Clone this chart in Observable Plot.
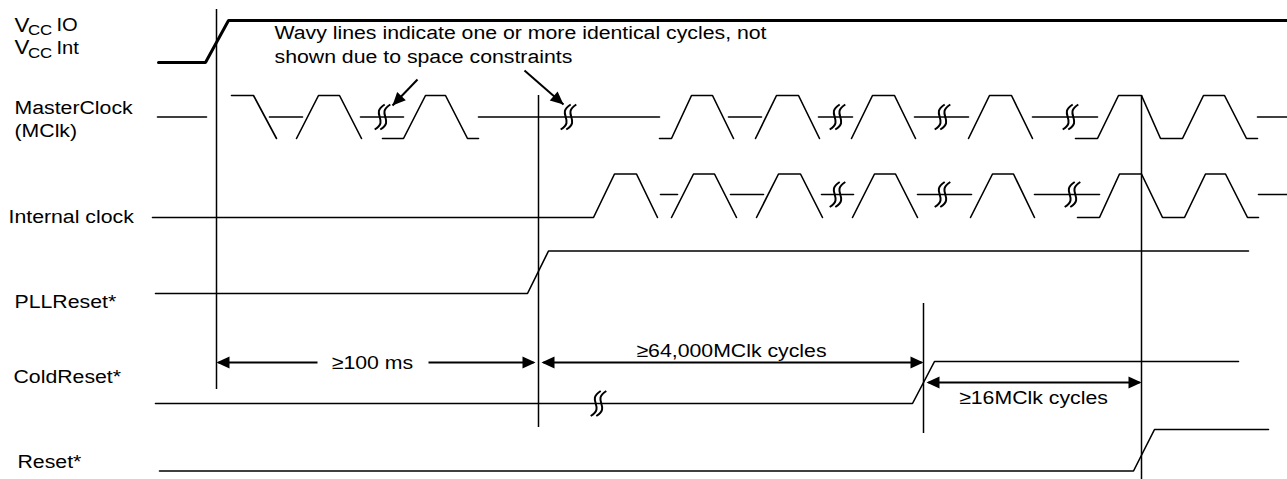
<!DOCTYPE html>
<html>
<head>
<meta charset="utf-8">
<script src="https://cdn.jsdelivr.net/npm/d3@7"></script>
<script src="https://cdn.jsdelivr.net/npm/@observablehq/plot@0.6"></script>
<style>
  html, body { margin: 0; padding: 0; background: #fff; overflow: hidden; }
  #chart svg { display: block; }
</style>
</head>
<body>
<div id="chart"></div>
<script>
// ---------------- DATA (time positions and logic levels) ----------------
const signalNames = ["MasterClock", "(MClk)", "Internal clock", "PLLReset*", "ColdReset*", "Reset*"];
const vccNames = [["V", "CC", "IO"], ["V", "CC", "Int"]];
const noteLines = ["Wavy lines indicate one or more identical cycles, not", "shown due to space constraints"];

// digital signals: [time, level]
const vccWave   = [[158, "L"], [205, "L"], [228, "H"], [1287, "H"]];
const pllWave   = [[155, "L"], [527, "L"], [548, "H"], [1248, "H"]];
const coldWave  = [[155, "L"], [912, "L"], [934, "H"], [1238, "H"]];
const resetWave = [[159, "L"], [1133, "L"], [1154, "H"], [1268, "H"]];

// clock signals: list of polyline pieces, each [time, level]; M = idle mid level
const mclkPieces = [
  [[157, "M"], [206, "M"]],
  [[231, "H"], [253, "H"], [276, "L"]],
  [[269, "M"], [302, "M"]],
  [[296, "L"], [318, "H"], [339, "H"], [361, "L"]],
  [[360, "M"], [403, "M"]],
  [[382, "L"], [403, "L"], [425, "H"], [445, "H"], [467, "L"], [478, "L"]],
  [[478, "M"], [659, "M"]],
  [[659, "L"], [671, "L"], [691, "H"], [712, "H"], [733, "L"]],
  [[728, "M"], [761, "M"]],
  [[755, "L"], [776, "H"], [798, "H"], [819, "L"]],
  [[818, "M"], [852, "M"]],
  [[851, "L"], [872, "H"], [894, "H"], [915, "L"]],
  [[914, "M"], [968, "M"]],
  [[968, "L"], [989, "H"], [1011, "H"], [1032, "L"]],
  [[1032, "M"], [1097, "M"]],
  [[1075, "L"], [1097, "L"], [1118, "H"], [1141, "H"], [1160, "L"], [1182, "L"], [1203, "H"], [1224, "H"], [1246, "L"], [1257, "L"]],
  [[1257, "M"], [1287, "M"]]
];
const iclkPieces = [
  [[152, "L"], [593, "L"], [614, "H"], [636, "H"], [657, "L"]],
  [[660, "M"], [677, "M"]],
  [[671, "L"], [693, "H"], [714, "H"], [736, "L"]],
  [[730, "M"], [763, "M"]],
  [[756, "L"], [778, "H"], [800, "H"], [822, "L"]],
  [[821, "M"], [853, "M"]],
  [[852, "L"], [874, "H"], [895, "H"], [917, "L"]],
  [[917, "M"], [971, "M"]],
  [[970, "L"], [992, "H"], [1013, "H"], [1034, "L"]],
  [[1034, "M"], [1099, "M"]],
  [[1077, "L"], [1099, "L"], [1119, "H"], [1141, "H"], [1162, "L"], [1184, "L"], [1205, "H"], [1225, "H"], [1247, "L"], [1258, "L"]],
  [[1258, "M"], [1287, "M"]]
];

// wavy-line (skipped cycles) positions per row
const wavyMclk = [382, 568, 837, 942, 1070];
const wavyIclk = [837, 942, 1072];
const wavyCold = [598];

// vertical reference times
const markerTimes = [216, 538, 923, 1141];

// timing intervals
const intervalFrom   = [216, 538, 923];
const intervalTo     = [538, 923, 1141];
const intervalLabels = ["\u2265100 ms", "\u226564,000MClk cycles", "\u226516MClk cycles"];

// ---------------- LAYOUT (rows, label placement, styles) ----------------
const FONT = '"Liberation Sans", Arial, Helvetica, sans-serif';
const rows = {
  vcc:   {H: 20, L: 62},
  mclk:  {H: 95, M: 116.5, L: 138},
  iclk:  {H: 173.5, M: 194, L: 217},
  pll:   {H: 250.5, L: 293},
  cold:  {H: 361, L: 403},
  reset: {H: 429, L: 470.5}
};
const labelPos = [[14, 113], [14, 136], [8, 222], [14, 307], [13, 382], [17, 467]];
const markerExtent = [[9, 389], [95, 427], [303, 433], [95, 479]];
const intervalY = [362, 362, 382];
const intervalLabelPos = [[372, 368], [731, 356], [1033, 403]];
const intervalGap = [[317, 428], null, null];
const noteArrows = [[[417, 79], [392, 105]], [[524, 70], [563, 104]]];

// ---------------- BUILD TABLES ----------------
function piecesToPoints(pieces, row, tag) {
  const out = [];
  pieces.forEach((p, i) => p.forEach(([t, lv]) => out.push({t, y: rows[row][lv], z: tag + i})));
  return out;
}
const thinLines = [
  ...piecesToPoints([pllWave], "pll", "pll"),
  ...piecesToPoints([coldWave], "cold", "cold"),
  ...piecesToPoints([resetWave], "reset", "reset"),
  ...piecesToPoints(mclkPieces, "mclk", "m"),
  ...piecesToPoints(iclkPieces, "iclk", "i")
];
const vccLine = piecesToPoints([vccWave], "vcc", "vcc");

const markers = markerTimes.map((t, i) => ({t, y1: markerExtent[i][0], y2: markerExtent[i][1]}));

const HEAD = 13;
const dimLinks = [];
const heads = [];
intervalFrom.forEach((f, i) => {
  const y = intervalY[i];
  const left = f + (i === 0 ? 0 : 3);
  const right = intervalTo[i] - (i === 0 ? 3 : 0);
  if (intervalGap[i]) {
    dimLinks.push({x1: left + 2, x2: intervalGap[i][0], y});
    dimLinks.push({x1: intervalGap[i][1], x2: right - 2, y});
  } else {
    dimLinks.push({x1: left + 2, x2: right - 2, y});
  }
  heads.push({x: left, y, r: 180});
  heads.push({x: right, y, r: 0});
});
const intervalText = intervalLabels.map((s, i) => ({s, x: intervalLabelPos[i][0], y: intervalLabelPos[i][1]}));

const noteLinks = noteArrows.map(([a, b]) => ({x1: a[0], y1: a[1], x2: b[0], y2: b[1]}));
noteArrows.forEach(([a, b]) => {
  heads.push({x: b[0], y: b[1], r: Math.atan2(b[1] - a[1], b[0] - a[0]) * 180 / Math.PI});
});

const wavies = [
  ...wavyMclk.map(t => ({t, y: rows.mclk.M})),
  ...wavyIclk.map(t => ({t, y: rows.iclk.M})),
  ...wavyCold.map(t => ({t, y: rows.cold.L}))
];

const labels = signalNames.map((s, i) => ({s, x: labelPos[i][0], y: labelPos[i][1]}));
const vccText = [];
vccNames.forEach(([v, sub, rest], i) => {
  const base = i === 0 ? 31 : 53.5;
  vccText.push({s: v, x: 14, y: base, size: 20});
  vccText.push({s: sub, x: 27.5, y: base + 3.5, size: 15});
  vccText.push({s: rest, x: 56, y: base - 0.5, size: 18});
});
const notes = noteLines.map((s, i) => ({s, x: 274, y: 38 + i * 24}));

// custom symbols
const arrowHead = {draw(ctx) { ctx.moveTo(0, 0); ctx.lineTo(-HEAD, -6); ctx.lineTo(-HEAD, 6); ctx.closePath(); }};
const wavySym = {draw(ctx) {
  for (const dx of [-2.8, 2.8]) {
    ctx.moveTo(dx + 5, -12.5);
    ctx.bezierCurveTo(dx - 10, -3, dx + 10, 3, dx - 5, 12.5);
  }
}};

// ---------------- PLOT ----------------
const chart = Plot.plot({
  width: 1287,
  height: 479,
  margin: 0,
  x: {domain: [0, 1287], range: [0, 1287], axis: null},
  y: {domain: [0, 479], range: [0, 479], axis: null},
  style: {fontFamily: FONT, background: "#fff", color: "#000"},
  marks: [
    Plot.ruleX(markers, {x: "t", y1: "y1", y2: "y2", stroke: "#000", strokeWidth: 1.5}),
    Plot.line(thinLines, {x: "t", y: "y", z: "z", stroke: "#000", strokeWidth: 1.6, strokeLinejoin: "miter"}),
    Plot.line(vccLine, {x: "t", y: "y", stroke: "#000", strokeWidth: 3, strokeLinejoin: "miter"}),
    Plot.link(dimLinks, {x1: "x1", x2: "x2", y1: "y", y2: "y", stroke: "#000", strokeWidth: 2}),
    Plot.link(noteLinks, {x1: "x1", y1: "y1", x2: "x2", y2: "y2", stroke: "#000", strokeWidth: 2}),
    Plot.dot(heads, {x: "x", y: "y", rotate: "r", symbol: arrowHead, fill: "#000", stroke: "none", r: 5}),
    Plot.dot(wavies, {x: "t", y: "y", symbol: wavySym, fill: "none", stroke: "#000", strokeWidth: 2, r: 5}),
    Plot.text(labels, {x: "x", y: "y", text: "s", textAnchor: "start", lineAnchor: "bottom", fontSize: 19, fill: "#000"}),
    Plot.text(vccText, {x: "x", y: "y", text: "s", textAnchor: "start", lineAnchor: "bottom", fontSize: d => d.size, fill: "#000"}),
    Plot.text(notes, {x: "x", y: "y", text: "s", textAnchor: "start", lineAnchor: "bottom", fontSize: 19, fill: "#000"}),
    Plot.text(intervalText, {x: "x", y: "y", text: "s", textAnchor: "middle", lineAnchor: "bottom", fontSize: 19, fill: "#000"})
  ]
});

// slight horizontal widening of the typeface, as in the reference drawing
chart.querySelectorAll("text").forEach(t => {
  const tr = t.getAttribute("transform");
  if (tr) t.setAttribute("transform", tr + " scale(1.12,1)");
});
document.getElementById("chart").appendChild(chart);
</script>
</body>
</html>
